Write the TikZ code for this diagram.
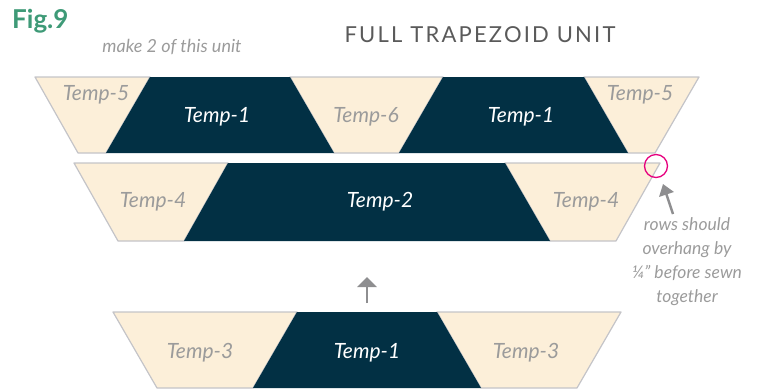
\documentclass[tikz,border=0pt]{standalone}
\usepackage{fontspec}
\setmainfont{Lato}
\usetikzlibrary{arrows.meta}
\definecolor{navy}{HTML}{023044}
\definecolor{cream}{HTML}{FCEFD9}
\definecolor{edgegray}{HTML}{C4C4C8}
\definecolor{labgray}{HTML}{9B9B9B}
\definecolor{arrgray}{HTML}{8E8E90}
\definecolor{ringpink}{HTML}{E6007E}
\definecolor{figgreen}{HTML}{3E9A77}
\definecolor{titlegray}{HTML}{5A5A5A}
\tikzset{
  creampiece/.style={fill=cream, draw=edgegray, line width=1.2pt, line join=round},
  darkpiece/.style={fill=navy},
  lightlab/.style={text=labgray, font=\itshape\fontsize{21}{24}\selectfont, inner sep=0pt},
  darklab/.style={text=white, font=\itshape\fontsize{21}{24}\selectfont, inner sep=0pt},
  grayarrow/.style={draw=arrgray, line width=2.5pt, -{Triangle[width=19pt,length=10pt]}},
  notearrow/.style={draw=arrgray, line width=2.5pt, -{Triangle[width=15pt,length=11pt]}},
}
\begin{document}
\begin{tikzpicture}[x=1pt,y=-1pt]
\useasboundingbox (0,0) rectangle (758,391);

% header
\node[anchor=west, text=figgreen, font=\bfseries\fontsize{26}{28}\selectfont, inner sep=0pt] (fig) at (12,21) {Fig.9};
\node[text=labgray, font=\itshape\fontsize{18}{20}\selectfont, inner sep=0pt] (make) at (172,47) {make 2 of this unit};
\node[text=titlegray, font=\addfontfeatures{LetterSpace=10}\fontsize{22}{24}\selectfont, inner sep=0pt] (title) at (480,35) {FULL TRAPEZOID UNIT};

% top row
\path[creampiece] (35,77) -- (150,77) -- (106,153) -- (78,153) -- cycle;
\path[creampiece] (290,77) -- (443,77) -- (399,153) -- (334,153) -- cycle;
\path[creampiece] (584,77) -- (699,77) -- (655,153) -- (628,153) -- cycle;
\path[darkpiece] (150,77) -- (290,77) -- (334,153) -- (106,153) -- cycle;
\path[darkpiece] (443,77) -- (584,77) -- (628,153) -- (399,153) -- cycle;
\node[lightlab] (t5a) at (96,95) {Temp-5};
\node[darklab] (t1a) at (217,117) {Temp-1};
\node[lightlab] (t6) at (366,117) {Temp-6};
\node[darklab] (t1b) at (521,117) {Temp-1};
\node[lightlab] (t5b) at (640,95) {Temp-5};

% middle row
\path[creampiece] (74,163) -- (228,163) -- (184,241) -- (118,241) -- cycle;
\path[creampiece] (505,163) -- (660,163) -- (616,241) -- (550,241) -- cycle;
\path[darkpiece] (228,163) -- (505,163) -- (550,241) -- (184,241) -- cycle;
\node[lightlab] (t4a) at (153,202) {Temp-4};
\node[darklab] (t2) at (380,202) {Temp-2};
\node[lightlab] (t4b) at (586,202) {Temp-4};

% bottom row
\path[creampiece] (113,312) -- (297,312) -- (253,388) -- (157,388) -- cycle;
\path[creampiece] (437,312) -- (621,312) -- (577,388) -- (481,388) -- cycle;
\path[darkpiece] (297,312) -- (437,312) -- (481,388) -- (253,388) -- cycle;
\node[lightlab] (t3a) at (200,353) {Temp-3};
\node[darklab] (t1c) at (367,353) {Temp-1};
\node[lightlab] (t3b) at (526,353) {Temp-3};

% join arrow
\coordinate (upTail) at (367,303);
\coordinate (upTip) at (367,277);
\draw[grayarrow] (upTail) -- (upTip);

% overhang marker
\node[circle, draw=ringpink, line width=1.3pt, minimum size=23pt, inner sep=0pt] (ring) at (656,166) {};
\coordinate (noteTail) at (673,214);
\coordinate (noteTip) at (663,184);
\draw[notearrow] (noteTail) -- (noteTip);
\node[text=labgray, font=\itshape\fontsize{17.5}{24}\selectfont, align=center, inner sep=0pt] (note) at (687,262)
  {rows should\\overhang by\\¼\char"22\ before sewn\\together};
\end{tikzpicture}
\end{document}
